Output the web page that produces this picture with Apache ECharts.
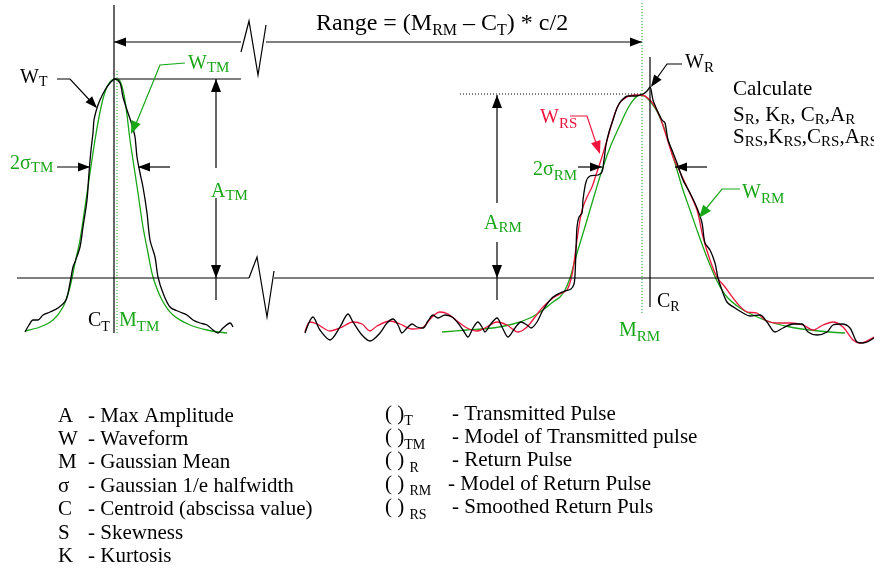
<!DOCTYPE html>
<html>
<head>
<meta charset="utf-8">
<script src="https://cdn.jsdelivr.net/npm/echarts@6/dist/echarts.min.js"></script>
<style>html,body{margin:0;padding:0;background:#fff}#c{width:874px;height:570px}</style>
</head>
<body>
<div id="c"></div>
<script>
// ---- data: [time bin, amplitude] ----
const transmittedWave = [[25,8],[29,15],[33,20],[38,20],[43,25],[50,28],[58,32],[66,40],[70,57],[73,73],[75,78],[80,93],[83,113],[87,140],[89,167],[91,190],[93,207],[94,220],[97,232],[100,240],[105,250],[110,257],[115,261],[120,257],[123,243],[127,230],[132,215],[135,203],[137,183],[140,167],[143,153],[147,127],[150,100],[155,83],[158,63],[163,47],[170,33],[180,28],[187,25],[193,20],[200,17],[207,15],[213,10],[218,7],[223,12],[230,17],[233,13]];
const transmittedModel = [[25,9],[40,13],[53,20],[63,33],[70,53],[75,77],[80,100],[85,133],[90,167],[95,200],[100,228],[105,248],[110,258],[115,261],[120,259],[124,245],[127,225],[130,200],[133,180],[138,147],[143,113],[148,87],[153,63],[162,40],[173,25],[190,15],[207,10],[227,7]];
const returnWave = [[305,7],[313,23],[320,10],[330,0],[340,13],[348,26],[353,18],[362,5],[370,-1],[380,7],[387,17],[393,21],[398,15],[402,7],[407,12],[412,16],[417,13],[423,12],[428,19],[433,25],[438,22],[445,25],[452,23],[458,17],[463,10],[468,3],[473,12],[478,18],[482,13],[485,8],[490,15],[497,22],[502,13],[508,3],[515,12],[521,18],[527,15],[531,12],[537,18],[543,30],[552,42],[560,47],[565,49],[571,51],[574,56],[575,65],[576,90],[577,113],[579,123],[582,127],[583,140],[586,158],[590,164],[598,165],[602,168],[604,180],[606,195],[609,208],[613,220],[617,232],[621,239],[628,244],[636,244],[643,246],[647,249],[650,253],[653,240],[657,230],[662,220],[665,217],[668,200],[672,190],[677,177],[683,160],[690,147],[697,132],[702,117],[705,97],[710,90],[715,77],[718,62],[722,50],[727,38],[735,32],[743,27],[750,24],[760,25],[767,18],[775,8],[783,12],[793,16],[802,16],[808,8],[817,5],[827,8],[833,15],[842,16],[850,12],[857,-2],[863,-3],[874,2]];
const returnSmoothed = [[305,8],[310,18],[317,16],[330,9],[340,12],[353,18],[362,16],[370,9],[377,14],[390,19],[400,16],[412,11],[422,12],[432,23],[440,28],[448,26],[457,19],[467,12],[477,9],[485,12],[497,18],[507,15],[518,8],[527,13],[535,23],[543,33],[553,42],[560,46],[567,50],[572,65],[575,85],[577,100],[580,120],[583,133],[588,145],[592,153],[596,165],[600,177],[605,193],[610,210],[614,224],[619,236],[627,243],[635,245],[642,245],[650,240],[655,233],[660,223],[666,205],[673,183],[680,168],[687,153],[697,130],[703,103],[710,80],[717,63],[725,53],[737,37],[747,28],[757,27],[765,20],[777,17],[790,17],[803,15],[813,10],[823,15],[833,18],[843,13],[853,0],[860,-3],[874,3]];
const returnModel = [[442,8],[467,10],[493,12],[513,16],[530,22],[543,30],[553,38],[560,43],[565,50],[570,62],[575,80],[581,100],[587,120],[595,147],[603,173],[611,195],[620,215],[628,232],[635,242],[640,245],[646,243],[655,232],[663,215],[670,194],[677,170],[683,150],[690,130],[698,107],[708,80],[718,57],[727,43],[740,32],[753,25],[770,18],[790,13],[810,10],[830,8],[845,7]];

// ---- legend texts ----
const legendSymbols = ['A','W','M','σ','C','S','K'];
const legendMeanings = ['- Max Amplitude','- Waveform','- Gaussian Mean','- Gaussian 1/e halfwidth','- Centroid (abscissa value)','- Skewness','- Kurtosis'];
const suffixSymbols = ['( )_{T}','( )_{TM}','( ) _{R}','( ) _{RM}','( ) _{RS}'];
const suffixMeanings = ['- Transmitted Pulse','- Model of Transmitted pulse','- Return Pulse','- Model of Return Pulse','- Smoothed Return Puls'];

const FAMILY = '"Liberation Serif","Times New Roman",serif';
const BLK = '#000000', GRN = '#19a619', RED = '#f0143c';

const mctx = document.createElement('canvas').getContext('2d');
function textWidth(s, size){
  mctx.font = size + 'px ' + FAMILY;
  return mctx.measureText(s).width;
}
function segments(str){
  const out = [];
  const re = /_\{([^}]*)\}/g;
  let last = 0, m;
  while((m = re.exec(str))){
    if(m.index > last) out.push({t:str.slice(last, m.index), sub:false});
    out.push({t:m[1], sub:true});
    last = re.lastIndex;
  }
  if(last < str.length) out.push({t:str.slice(last), sub:false});
  return out;
}
// x: left edge, base: text baseline of the main glyphs
function lab(x, base, str, color, F, S, drop){
  S = S || Math.round(F*0.7); drop = drop == null ? 4 : drop;
  const res = [];
  let cx = x;
  segments(str).forEach(seg=>{
    const size = seg.sub ? S : F;
    const b = seg.sub ? base + drop : base;
    res.push({type:'text', x:cx, y:b - 0.32*size, silent:true, z:100,
      style:{text:seg.t, fill:color, fontFamily:FAMILY, fontSize:size, align:'left', verticalAlign:'middle'}});
    cx += textWidth(seg.t, size);
  });
  return res;
}
function L(points, color, width, dash){
  return {type:'polyline', silent:true, z:50, shape:{points:points},
    style:{stroke:color||BLK, lineWidth:width||1.2, fill:null, lineDash:dash||null}};
}
function A(tip, from, color, len, hw){
  len = len||12; hw = hw||4.5;
  const dx = tip[0]-from[0], dy = tip[1]-from[1];
  const n = Math.sqrt(dx*dx+dy*dy);
  const ux = dx/n, uy = dy/n;
  const bx = tip[0]-ux*len, by = tip[1]-uy*len;
  return {type:'polygon', silent:true, z:51, shape:{points:[tip,[bx-uy*hw,by+ux*hw],[bx+uy*hw,by-ux*hw]]},
    style:{fill:color||BLK, stroke:null}};
}

let els = [];
// structure lines
els.push(L([[114,5],[114,333]]));
els.push(L([[114,42],[241,42]]), A([114,42],[241,42]));
els.push(L([[241,52],[249,21],[258,75],[266,25]]));
els.push(L([[266,42],[642,42]]), A([642,42],[266,42]));
els.push(L([[114,79],[241,79]]));
els.push(L([[17,278],[249,278]]));
els.push(L([[249,278],[257,257],[267,317],[274,271]]));
els.push(L([[274,278],[874,278]]));
els.push(L([[216,79],[216,168]]), A([216,79],[216,100],BLK,13,5));
els.push(L([[216,198],[216,300]]), A([216,278],[216,250],BLK,13,5));
els.push(L([[57,79],[70,79],[96,107]]), A([97,108],[70,79]));
els.push(L([[57,167],[90,167]]), A([90,167],[57,167]));
els.push(L([[170,167],[138,167]]), A([138,167],[170,167]));
els.push(L([[650,57],[650,307]]));
els.push(L([[682,64],[667,64],[652,85]]), A([651,87],[667,64]));
els.push(L([[460,94],[642,94]], BLK, 1, [1,2]));
els.push(L([[497,95],[497,203]]), A([497,95],[497,120],BLK,13,5));
els.push(L([[497,242],[497,300]]), A([497,278],[497,250],BLK,13,5));
els.push(L([[578,167],[602,167]]), A([602,167],[578,167]));
els.push(L([[707,167],[675,167]]), A([675,167],[707,167]));
els.push(L([[117,71],[117,333]], GRN, 1, [1,2]));
els.push(L([[642,3],[642,314]], GRN, 1, [1,2]));
els.push(L([[185,63],[160,65],[133,131]], GRN), A([131,134],[160,65],GRN,13,5));
els.push(L([[740,189],[722,189],[700,216]], GRN), A([699,218],[722,189],GRN,13,5));
els.push(L([[570,116],[587,116],[599,152]], RED), A([600,154],[587,116],RED,13,5));

// labels
els = els.concat(
  lab(316,31,'Range = (M_{RM} – C_{T}) * c/2',BLK,24,16,5),
  lab(20,84,'W_{T}',BLK,20,14,3),
  lab(188,70,'W_{TM}',GRN,20,15,3),
  lab(10,170,'2σ_{TM}',GRN,20,15,3),
  lab(211,198,'A_{TM}',GRN,20,15,3),
  lab(88,327,'C_{T}',BLK,20,14,5),
  lab(119,327,'M_{TM}',GRN,20,15,5),
  lab(685,69,'W_{R}',BLK,20,15,4),
  lab(733,96,'Calculate',BLK,21),
  lab(733,122,'S_{R}, K_{R}, C_{R},A_{R}',BLK,21,15,3),
  lab(733,144,'S_{RS},K_{RS},C_{RS},A_{RS}',BLK,21,15,3),
  lab(540,124,'W_{RS}',RED,20,15,5),
  lab(533,176,'2σ_{RM}',GRN,20,15,5),
  lab(484,230,'A_{RM}',GRN,20,15,3),
  lab(657,308,'C_{R}',BLK,20,14,4),
  lab(619,337,'M_{RM}',GRN,20,15,5),
  lab(742,199,'W_{RM}',GRN,20,15,5)
);

// legend
legendSymbols.forEach((s,i)=>{
  const b = 423 + i*23.35;
  els = els.concat(lab(58,b,s,BLK,21), lab(88,b,legendMeanings[i],BLK,21));
});
suffixSymbols.forEach((s,i)=>{
  const b = 421 + i*23.35;
  els = els.concat(lab(385,b,s,BLK,21,14,5), lab(i===3?448:452,b,suffixMeanings[i],BLK,21));
});

function wave(data, color, z){
  return {type:'line', data:data, showSymbol:false, smooth:0.3, silent:true, z:z,
    lineStyle:{color:color, width:1.3}, itemStyle:{color:color}};
}

const chart = echarts.init(document.getElementById('c'), null, {renderer:'canvas'});
chart.setOption({
  animation:false,
  backgroundColor:'#ffffff',
  grid:{left:0,right:0,top:0,bottom:0},
  xAxis:{type:'value',min:0,max:874,show:false},
  yAxis:{type:'value',min:-230,max:340,show:false},
  series:[
    wave(transmittedModel, GRN, 2),
    wave(transmittedWave, BLK, 3),
    wave(returnModel, GRN, 2),
    wave(returnSmoothed, RED, 3),
    wave(returnWave, BLK, 4)
  ],
  graphic:{elements:els}
});
</script>
</body>
</html>
